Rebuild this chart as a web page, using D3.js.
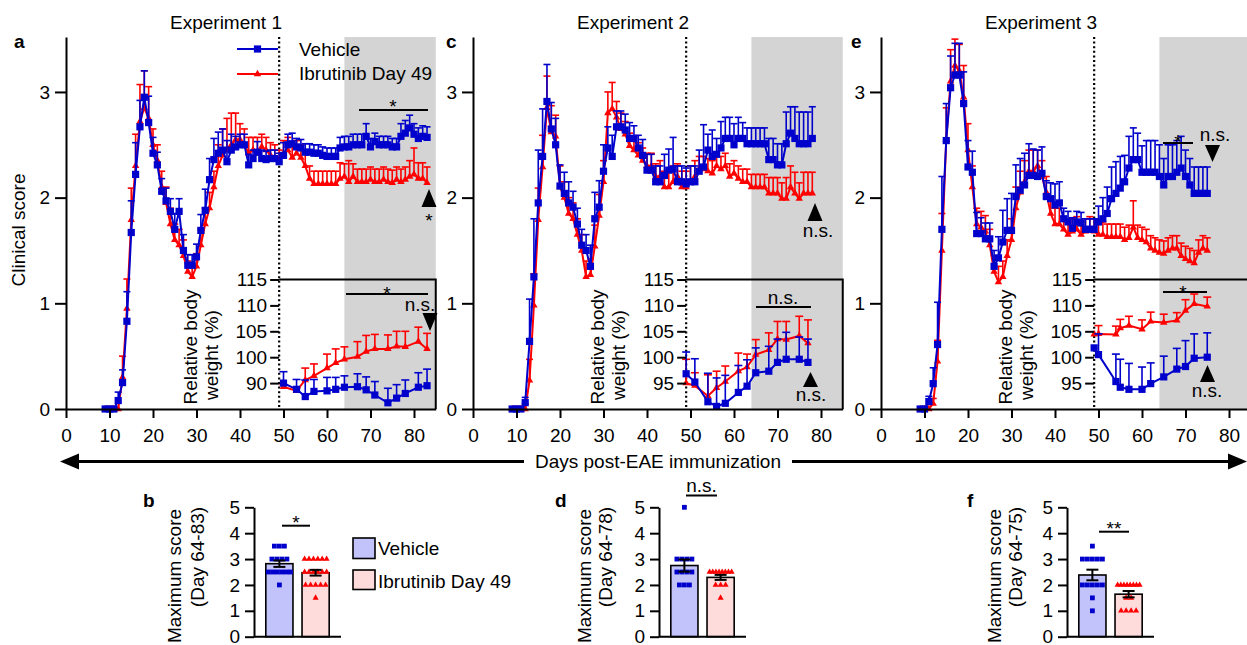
<!DOCTYPE html>
<html>
<head>
<meta charset="utf-8">
<script src="https://cdn.jsdelivr.net/npm/d3@7"></script>
<style>
    body { margin: 0; background: #fff; }
    svg text { font-family: "Liberation Sans", Arial, sans-serif; font-size: 19px; fill: #000; }
</style>
</head>
<body>
<div id="chart"></div>
<script>

/*
    DATA — clinical scores (mean + SEM), one value per day starting at day 9
*/
const firstDay = 9;

// Experiment 1 (days 9..83)
const aVehicle = [0,0,0,0.08,0.25,0.83,1.67,2.22,2.67,2.95,
    2.71,2.42,2.31,2.06,1.97,1.87,1.70,1.87,1.50,1.36,
    1.36,1.44,1.69,1.88,2.17,2.36,2.42,2.45,2.34,2.45,
    2.48,2.50,2.50,2.31,2.37,2.43,2.37,2.36,2.37,2.37,
    2.34,2.40,2.50,2.51,2.48,2.47,2.43,2.43,2.42,2.42,
    2.40,2.39,2.39,2.39,2.47,2.48,2.48,2.50,2.50,2.50,
    2.58,2.48,2.53,2.50,2.50,2.50,2.48,2.48,2.58,2.61,
    2.66,2.60,2.56,2.58,2.57];
const aVehicleErr = [0,0,0,0.08,0.12,0.28,0.3,0.3,0.25,0.25,
    0.25,0.15,0.12,0.12,0.12,0.12,0.15,0.12,0.15,0.1,
    0.1,0.12,0.15,0.2,0.2,0.2,0.2,0.2,0.2,0.15,
    0.1,0.1,0.1,0.1,0.08,0.1,0.08,0.08,0.08,0.08,
    0.08,0.12,0.1,0.1,0.08,0.08,0.08,0.08,0.08,0.08,
    0.08,0.08,0.08,0.08,0.1,0.1,0.1,0.1,0.1,0.1,
    0.12,0.08,0.08,0.08,0.08,0.08,0.08,0.08,0.12,0.12,
    0.12,0.1,0.1,0.1,0.1];
const aIbrutinib = [0,0,0,0,0.3,0.95,1.79,2.3,2.72,2.85,
    2.75,2.5,2.35,2.1,1.95,1.75,1.6,1.55,1.45,1.3,
    1.25,1.35,1.55,1.75,1.9,2.1,2.3,2.4,2.45,2.5,
    2.55,2.55,2.5,2.42,2.45,2.42,2.48,2.45,2.4,2.38,
    2.35,2.42,2.45,2.38,2.42,2.38,2.3,2.18,2.13,2.13,
    2.13,2.13,2.13,2.13,2.18,2.2,2.15,2.2,2.15,2.15,
    2.15,2.17,2.15,2.15,2.17,2.15,2.14,2.17,2.15,2.17,
    2.2,2.22,2.18,2.18,2.14];
const aIbrutinibErr = [0,0,0,0,0.2,0.28,0.3,0.3,0.35,0.35,
    0.3,0.15,0.15,0.15,0.15,0.15,0.15,0.15,0.15,0.1,
    0.1,0.12,0.15,0.15,0.15,0.15,0.2,0.25,0.3,0.3,
    0.25,0.15,0.15,0.15,0.12,0.15,0.12,0.12,0.12,0.12,
    0.1,0.12,0.12,0.12,0.12,0.12,0.12,0.12,0.12,0.12,
    0.12,0.12,0.12,0.12,0.15,0.12,0.2,0.12,0.12,0.12,
    0.12,0.12,0.12,0.12,0.12,0.12,0.12,0.12,0.12,0.12,
    0.15,0.25,0.15,0.15,0.15];

// Experiment 2 (days 9..78)
const cVehicle = [0,0,0,0.06,0.64,1.25,1.95,2.39,2.91,2.65,
    2.50,2.11,2.04,1.95,1.91,1.75,1.55,1.50,1.35,1.80,
    1.91,2.25,2.47,2.39,2.67,2.67,2.64,2.56,2.56,2.47,
    2.40,2.26,2.26,2.15,2.15,2.21,2.26,2.27,2.15,2.15,
    2.13,2.15,2.15,2.25,2.29,2.45,2.39,2.41,2.47,2.56,
    2.56,2.50,2.56,2.56,2.51,2.51,2.51,2.51,2.51,2.36,
    2.36,2.31,2.31,2.51,2.61,2.56,2.51,2.51,2.51,2.56];
const cVehicleErr = [0,0,0,0.05,0.4,0.55,0.5,0.45,0.35,0.25,
    0.25,0.2,0.2,0.2,0.15,0.15,0.15,0.15,0.2,0.25,
    0.25,0.25,0.2,0.2,0.15,0.15,0.15,0.15,0.12,0.12,
    0.15,0.15,0.15,0.15,0.15,0.2,0.2,0.3,0.15,0.15,
    0.15,0.15,0.15,0.2,0.4,0.15,0.25,0.15,0.25,0.2,
    0.2,0.2,0.2,0.15,0.15,0.15,0.15,0.15,0.15,0.2,
    0.2,0.2,0.2,0.3,0.25,0.3,0.3,0.3,0.3,0.3];
const cIbrutinib = [0,0,0,0,0.27,0.98,1.79,2.29,2.85,2.62,
    2.58,2.1,2.0,1.85,1.8,1.65,1.5,1.25,1.27,1.54,
    1.83,2.15,2.8,2.84,2.76,2.65,2.6,2.49,2.45,2.4,
    2.35,2.3,2.3,2.2,2.2,2.1,2.1,2.15,2.2,2.1,
    2.1,2.15,2.2,2.27,2.27,2.25,2.23,2.3,2.27,2.3,
    2.2,2.23,2.18,2.15,2.15,2.1,2.1,2.1,2.1,2.04,
    2.04,2.04,1.99,1.99,2.1,2.04,1.99,2.04,2.04,2.04];
const cIbrutinibErr = [0,0,0,0.05,0.2,0.3,0.3,0.3,0.3,0.25,
    0.2,0.2,0.15,0.15,0.15,0.15,0.15,0.15,0.15,0.2,
    0.2,0.2,0.2,0.25,0.15,0.15,0.12,0.12,0.12,0.12,
    0.12,0.12,0.12,0.12,0.15,0.15,0.15,0.15,0.12,0.15,
    0.15,0.15,0.15,0.12,0.12,0.12,0.12,0.12,0.12,0.12,
    0.12,0.12,0.12,0.12,0.12,0.12,0.12,0.12,0.12,0.15,
    0.15,0.15,0.15,0.2,0.2,0.2,0.15,0.2,0.2,0.2];

// Experiment 3 (days 9..75)
const eVehicle = [0,0,0.07,0.24,0.61,1.70,2.54,3.04,3.16,3.16,
    2.89,2.29,2.24,1.66,1.66,1.61,1.61,1.35,1.43,1.58,
    1.69,1.69,2.01,2.07,2.12,2.21,2.21,2.20,2.23,2.01,
    1.99,1.93,1.95,1.80,1.77,1.71,1.77,1.76,1.70,1.70,
    1.70,1.77,1.80,1.85,1.99,2.04,2.09,2.15,2.28,2.36,
    2.36,2.24,2.24,2.24,2.24,2.20,2.12,2.20,2.20,2.24,
    2.28,2.20,2.12,2.04,2.04,2.04,2.04];
const eVehicleErr = [0,0,0.05,0.15,0.4,0.5,0.35,0.3,0.3,0.3,
    0.3,0.25,0.2,0.2,0.15,0.15,0.15,0.15,0.2,0.3,
    0.3,0.35,0.3,0.3,0.3,0.3,0.25,0.25,0.25,0.15,
    0.15,0.2,0.2,0.1,0.1,0.1,0.1,0.1,0.1,0.1,
    0.1,0.15,0.2,0.25,0.3,0.3,0.3,0.25,0.3,0.3,
    0.25,0.25,0.3,0.3,0.3,0.3,0.25,0.3,0.3,0.3,
    0.3,0.25,0.25,0.25,0.25,0.25,0.25];
const eIbrutinib = [0,0,0,0.05,0.45,1.5,2.55,3.1,3.25,3.2,
    2.95,2.45,2.1,1.75,1.72,1.68,1.55,1.3,1.2,1.25,
    1.45,1.6,1.9,2.05,2.15,2.25,2.25,2.3,2.2,2.05,
    1.85,1.75,1.75,1.7,1.65,1.68,1.7,1.65,1.68,1.7,
    1.68,1.65,1.65,1.63,1.63,1.63,1.63,1.6,1.62,1.72,
    1.62,1.6,1.58,1.52,1.5,1.48,1.47,1.5,1.52,1.52,
    1.45,1.42,1.4,1.38,1.48,1.52,1.5];
const eIbrutinibErr = [0,0,0,0.05,0.2,0.35,0.3,0.3,0.25,0.25,
    0.3,0.25,0.2,0.15,0.15,0.15,0.15,0.15,0.15,0.15,
    0.15,0.2,0.2,0.2,0.2,0.2,0.2,0.15,0.15,0.15,
    0.15,0.15,0.15,0.12,0.12,0.12,0.12,0.12,0.12,0.12,
    0.12,0.12,0.12,0.12,0.12,0.12,0.12,0.12,0.12,0.25,
    0.12,0.12,0.12,0.12,0.12,0.12,0.12,0.12,0.12,0.12,
    0.12,0.12,0.12,0.12,0.12,0.12,0.12];

/*
    INSETS — relative body weight (%)
*/
const aWeightDays = [50,53,55,57,60,62,64,67,69,71,74,76,78,81,83];
const aWeightVehicle = [95.0,93.8,92.4,93.4,93.5,93.8,94.2,94.3,93.7,92.7,91.2,92.1,93.0,94.2,94.5];
const aWeightVehicleErr = [2.2,1.9,3.2,2.3,2.6,2.3,2.2,2.5,2.5,2.6,2.8,2.6,2.6,2.8,3.2];
const aWeightIbrutinib = [94.3,93.5,95.6,96.4,97.9,98.9,99.6,100.1,101.1,101.6,101.6,102.1,102.0,103.0,101.6];
const aWeightIbrutinibErr = [0.4,0.6,2.3,2.3,2.7,2.7,2.4,2.9,3.1,2.8,2.7,2.9,3.0,2.8,3.0];
const aWeightTickLabels = ["90","100","105","110","115"];

const cWeightDays = [49,51,54,56,58,61,63,65,68,70,72,75,77];
const cWeightVehicle = [96.8,95.2,91.4,90.5,91.1,93.2,94.4,97.0,97.3,99.0,99.6,99.6,99.0];
const cWeightVehicleErr = [4.2,4.5,5.5,5.5,5.4,5.2,5.1,4.8,4.8,4.5,5.2,4.3,4.5];
const cWeightIbrutinib = [95.0,94.5,92.5,94.1,95.3,97.3,98.1,100.5,101.4,103.5,103.4,104.1,102.7];
const cWeightIbrutinibErr = [4.6,2.5,4.1,3.2,3.0,3.5,2.5,2.9,3.3,3.4,3.5,3.8,4.5];
const cWeightTickLabels = ["95","100","105","110","115"];

const eWeightDays = [49,50,54,55,57,60,62,65,68,70,72,75];
const eWeightVehicle = [101.8,100.5,95.3,94.2,93.8,93.8,94.9,96.2,97.7,98.2,99.8,100.0];
const eWeightVehicleErr = [0,4.0,5.3,5.4,5.0,4.3,4.0,4.0,4.0,5.0,4.7,4.7];
const eWeightIbrutinib = [104.4,104.5,104.4,105.6,106.1,105.4,106.9,106.7,107.1,109.0,110.3,109.8];
const eWeightIbrutinibErr = [0,1.6,1.6,1.7,1.8,1.8,1.8,1.6,1.5,2.1,1.9,1.8];
const eWeightTickLabels = ["95","100","105","110","115"];

const scoreTicks = [0, 1, 2, 3];
const dayTicks = [0, 10, 20, 30, 40, 50, 60, 70, 80];
const weightTicks = [95, 100, 105, 110, 115];

/*
    MAXIMUM SCORE per mouse (bar panels b, d, f)
*/
const bVehicle = [3.5,3.5,3.5,3,3,3,3,2.5,2.5,2.5,2.5,2.5,2.5,2];
const bIbrutinib = [3,3,3,3,3,3,2.5,2.5,2.5,2.5,2.5,2.5,2,2,2,2,2,1.5];
const dVehicle = [5,3,3,3,3,2.5,2.5,2.5,2.5,2,2,2];
const dIbrutinib = [2.5,2.5,2.5,2.5,2.5,2.5,2.5,2.5,2,2,2,1.5];
const fVehicle = [3.5,3,3,3,3,3,2,2,2,2,2,1.5,1];
const fIbrutinib = [2,2,2,2,2,2,2,2,1.5,1.5,1,1,1,1];
const maxTicks = [0, 1, 2, 3, 4, 5];
const groups = ["Vehicle", "Ibrutinib Day 49"];

/*
    SVG
*/
const width = 1247, height = 645;
const BLUE = "#0000cc", RED = "#ff0000", GREY = "#d4d4d4";
const FONT = "Liberation Sans, Arial, sans-serif";

const svg = d3.select("#chart")
    .append("svg")
    .attr("width", width)
    .attr("height", height);

const yScore = d3.scaleLinear().domain([0, 3.52]).range([409, 37]);
const yWeight = d3.scaleLinear().domain([90, 115]).range([409, 279.5]);

function styleAxis(g, size) {
    g.attr("font-size", size || 19).attr("font-family", FONT);
    g.selectAll(".domain").attr("stroke-width", 2);
    g.selectAll(".tick line").attr("stroke-width", 2);
    g.selectAll(".tick text").attr("fill", "#000");
}

function drawSeries(g, days, vals, errs, color, shape, x, y, capW) {
    const pts = vals.map((v, i) => ({ day: days[i], v: v, e: errs[i] }));
    g.append("path")
        .datum(pts)
        .attr("fill", "none")
        .attr("stroke", color)
        .attr("stroke-width", 2)
        .attr("d", d3.line().x(d => x(d.day)).y(d => y(d.v)));

    const withErr = pts.filter(d => d.e > 0);
    const eb = g.append("g").attr("stroke", color).attr("stroke-width", 1.6);
    eb.selectAll(".v").data(withErr).join("line")
        .attr("x1", d => x(d.day)).attr("x2", d => x(d.day))
        .attr("y1", d => y(d.v)).attr("y2", d => y(d.v + d.e));
    eb.selectAll(".c").data(withErr).join("line")
        .attr("x1", d => x(d.day) - capW).attr("x2", d => x(d.day) + capW)
        .attr("y1", d => y(d.v + d.e)).attr("y2", d => y(d.v + d.e));

    if (shape === "square") {
        g.selectAll(null).data(pts).join("rect")
            .attr("x", d => x(d.day) - 3.6).attr("y", d => y(d.v) - 3.6)
            .attr("width", 7.2).attr("height", 7.2)
            .attr("fill", color);
    } else {
        g.selectAll(null).data(pts).join("path")
            .attr("transform", d => `translate(${x(d.day)},${y(d.v)})`)
            .attr("d", d3.symbol(d3.symbolTriangle, 24))
            .attr("fill", color);
    }
}

function triangle(g, cx, yTop, yBot, up) {
    const w = 7.5;
    const d = up
        ? `M${cx},${yTop}L${cx + w},${yBot}L${cx - w},${yBot}Z`
        : `M${cx - w},${yTop}L${cx + w},${yTop}L${cx},${yBot}Z`;
    g.append("path").attr("d", d).attr("fill", "#000");
}

function label(g, x, y, txt, opts) {
    opts = opts || {};
    return g.append("text")
        .attr("x", x).attr("y", y)
        .attr("text-anchor", opts.anchor || "middle")
        .attr("font-size", opts.size || 19)
        .attr("font-weight", opts.bold ? "bold" : null)
        .text(txt);
}

// stars are placed by the centre of the glyph
const STAR = 30;
function star(g, x, yc, txt) {
    return label(g, x, yc + STAR * 0.4, txt || "*", { size: STAR });
}

const panels = [
    { x0: 66, letter: "a", letterX: 14, title: "Experiment 1",
      blue: aVehicle, blueErr: aVehicleErr, red: aIbrutinib, redErr: aIbrutinibErr,
      wDays: aWeightDays, wBlue: aWeightVehicle, wBlueErr: aWeightVehicleErr,
      wRed: aWeightIbrutinib, wRedErr: aWeightIbrutinibErr, wLabels: aWeightTickLabels },
    { x0: 473, letter: "c", letterX: 446, title: "Experiment 2",
      blue: cVehicle, blueErr: cVehicleErr, red: cIbrutinib, redErr: cIbrutinibErr,
      wDays: cWeightDays, wBlue: cWeightVehicle, wBlueErr: cWeightVehicleErr,
      wRed: cWeightIbrutinib, wRedErr: cWeightIbrutinibErr, wLabels: cWeightTickLabels },
    { x0: 881, letter: "e", letterX: 851, title: "Experiment 3",
      blue: eVehicle, blueErr: eVehicleErr, red: eIbrutinib, redErr: eIbrutinibErr,
      wDays: eWeightDays, wBlue: eWeightVehicle, wBlueErr: eWeightVehicleErr,
      wRed: eWeightIbrutinib, wRedErr: eWeightIbrutinibErr, wLabels: eWeightTickLabels }
];

panels.forEach(function(p) {
    const x = d3.scaleLinear().domain([0, 85]).range([p.x0, p.x0 + 369.75]);
    const g = svg.append("g");

    // shaded evaluation period (day 64 onward)
    g.append("rect")
        .attr("x", x(64)).attr("y", 37)
        .attr("width", x(85) - x(64)).attr("height", yScore(0) - 37)
        .attr("fill", GREY);

    // inset frame
    g.append("path")
        .attr("d", `M${x(49)},${yWeight(115)}H${x(85)}V${yWeight(90)}`)
        .attr("fill", "none").attr("stroke", "#000").attr("stroke-width", 2);

    // treatment start (day 49)
    g.append("line")
        .attr("x1", x(49)).attr("x2", x(49))
        .attr("y1", 37).attr("y2", yScore(0))
        .attr("stroke", "#000").attr("stroke-width", 2.2)
        .attr("stroke-dasharray", "2,2.6");

    const days = p.blue.map((v, i) => firstDay + i);
    drawSeries(g, days, p.red, p.redErr, RED, "triangle", x, yScore, 3.5);
    drawSeries(g, days, p.blue, p.blueErr, BLUE, "square", x, yScore, 3.5);

    drawSeries(g, p.wDays, p.wRed, p.wRedErr, RED, "triangle", x, yWeight, 4);
    drawSeries(g, p.wDays, p.wBlue, p.wBlueErr, BLUE, "square", x, yWeight, 4);

    // axes
    const xAxis = g.append("g")
        .attr("transform", `translate(0,${yScore(0)})`)
        .call(d3.axisBottom(x).tickValues(dayTicks).tickSize(9).tickSizeOuter(0).tickPadding(11));
    styleAxis(xAxis);

    const yAxis = g.append("g")
        .attr("transform", `translate(${p.x0},0)`)
        .call(d3.axisLeft(yScore).tickValues(scoreTicks).tickSize(11).tickSizeOuter(0).tickPadding(5)
            .tickFormat(d3.format("d")));
    styleAxis(yAxis);

    const wAxis = g.append("g")
        .attr("transform", `translate(${x(49)},0)`)
        .call(d3.axisLeft(yWeight).tickValues(weightTicks).tickSize(9).tickSizeOuter(0).tickPadding(3)
            .tickFormat((d, i) => p.wLabels[i]));
    styleAxis(wAxis);
    wAxis.select(".domain").remove();

    // inset axis title
    const xi = x(49);
    g.append("text").attr("transform", `translate(${xi - 82},347) rotate(-90)`)
        .attr("text-anchor", "middle").text("Relative body");
    g.append("text").attr("transform", `translate(${xi - 61},355) rotate(-90)`)
        .attr("text-anchor", "middle").text("weight (%)");

    label(g, p.x0 + 160, 29, p.title);
    label(g, p.letterX, 48, p.letter, { anchor: "start", size: 20, bold: true });
});

// ---- significance marks, main panels
const ann = svg.append("g").attr("stroke", "#000").attr("stroke-width", 2);
// a
ann.append("line").attr("x1", 359).attr("x2", 428).attr("y1", 110).attr("y2", 110);
star(svg, 393, 101);
triangle(svg, 429, 189, 207, true);
star(svg, 429, 215);
ann.append("line").attr("x1", 346).attr("x2", 428).attr("y1", 294).attr("y2", 294);
star(svg, 387, 288);
label(svg, 420, 311, "n.s.");
triangle(svg, 430, 313, 331, false);
// c
triangle(svg, 815, 203, 221, true);
label(svg, 818, 237, "n.s.");
label(svg, 783, 304, "n.s.");
ann.append("line").attr("x1", 756).attr("x2", 811).attr("y1", 307).attr("y2", 307);
triangle(svg, 810.5, 372, 387, true);
label(svg, 811, 401, "n.s.");
// e
ann.append("line").attr("x1", 1163).attr("x2", 1193).attr("y1", 143).attr("y2", 143);
star(svg, 1178, 136);
label(svg, 1215, 141, "n.s.");
triangle(svg, 1212.5, 145, 162, false);
ann.append("line").attr("x1", 1163).attr("x2", 1207).attr("y1", 292).attr("y2", 292);
star(svg, 1183, 286.5);
triangle(svg, 1207.5, 365, 382, true);
label(svg, 1207, 397, "n.s.");

// ---- legend, panel a
const leg = svg.append("g");
leg.append("line").attr("x1", 237).attr("x2", 278).attr("y1", 49).attr("y2", 49)
    .attr("stroke", BLUE).attr("stroke-width", 2);
leg.append("rect").attr("x", 253.9).attr("y", 45.4).attr("width", 7.2).attr("height", 7.2).attr("fill", BLUE);
leg.append("line").attr("x1", 237).attr("x2", 278).attr("y1", 74).attr("y2", 74)
    .attr("stroke", RED).attr("stroke-width", 2);
leg.append("path").attr("transform", "translate(257.5,74)")
    .attr("d", d3.symbol(d3.symbolTriangle, 24)).attr("fill", RED);
label(leg, 299, 56, groups[0], { anchor: "start" });
label(leg, 299, 80, groups[1], { anchor: "start" });

// ---- clinical score title
svg.append("text").attr("transform", "translate(25,230) rotate(-90)")
    .attr("text-anchor", "middle").text("Clinical score");

// ---- shared day axis arrow
const arrowY = 461.5;
svg.append("line").attr("x1", 76).attr("x2", 1231).attr("y1", arrowY).attr("y2", arrowY)
    .attr("stroke", "#000").attr("stroke-width", 3);
svg.append("path").attr("d", `M60,${arrowY}L79,${arrowY - 8}L79,${arrowY + 8}Z`).attr("fill", "#000");
svg.append("path").attr("d", `M1247,${arrowY}L1228,${arrowY - 8}L1228,${arrowY + 8}Z`).attr("fill", "#000");
svg.append("rect").attr("x", 524).attr("y", 450).attr("width", 268).attr("height", 24).attr("fill", "#fff");
label(svg, 658, 468, "Days post-EAE immunization");

/*
    BAR PANELS
*/
const yMax = d3.scaleLinear().domain([0, 5]).range([636.7, 507.3]);
const barPanels = [
    { letter: "b", letterX: 143, ax: 254, lx1: 181, lx2: 204, period: "(Day 64-83)", veh: bVehicle, ibr: bIbrutinib },
    { letter: "d", letterX: 555, ax: 659, lx1: 591, lx2: 612, period: "(Day 64-78)", veh: dVehicle, ibr: dIbrutinib },
    { letter: "f", letterX: 967, ax: 1067, lx1: 1001, lx2: 1022, period: "(Day 64-75)", veh: fVehicle, ibr: fIbrutinib }
];

barPanels.forEach(function(p) {
    const g = svg.append("g");
    const xb = d3.scaleBand().domain(groups).range([p.ax + 10, p.ax + 77]).paddingInner(0.25).paddingOuter(0.05);
    const sets = [
        { key: groups[0], vals: p.veh, fill: "#c3c3fb", color: BLUE, shape: "square" },
        { key: groups[1], vals: p.ibr, fill: "#ffdcdc", color: RED, shape: "triangle" }
    ];
    sets.forEach(function(s) {
        const m = d3.mean(s.vals);
        const sem = d3.deviation(s.vals) / Math.sqrt(s.vals.length);
        const cx = xb(s.key) + xb.bandwidth() / 2;
        g.append("rect")
            .attr("x", xb(s.key)).attr("y", yMax(m))
            .attr("width", xb.bandwidth()).attr("height", yMax(0) - yMax(m))
            .attr("fill", s.fill).attr("stroke", "#000").attr("stroke-width", 1.6);

        // individual mice, same scores spread side by side
        const rows = d3.groups(s.vals, v => v);
        rows.forEach(function(r) {
            const n = r[1].length;
            const step = n > 1 ? Math.min(5, 22 / (n - 1)) : 0;
            r[1].forEach(function(v, i) {
                const px = cx + (i - (n - 1) / 2) * step;
                if (s.shape === "square") {
                    g.append("rect").attr("x", px - 2.4).attr("y", yMax(v) - 2.4)
                        .attr("width", 4.8).attr("height", 4.8).attr("fill", s.color);
                } else {
                    g.append("path").attr("transform", `translate(${px},${yMax(v)})`)
                        .attr("d", d3.symbol(d3.symbolTriangle, 16)).attr("fill", s.color);
                }
            });
        });

        const eg = g.append("g").attr("stroke", "#000").attr("stroke-width", 2);
        eg.append("line").attr("x1", cx).attr("x2", cx).attr("y1", yMax(m - sem)).attr("y2", yMax(m + sem));
        eg.append("line").attr("x1", cx - 6).attr("x2", cx + 6).attr("y1", yMax(m - sem)).attr("y2", yMax(m - sem));
        eg.append("line").attr("x1", cx - 6).attr("x2", cx + 6).attr("y1", yMax(m + sem)).attr("y2", yMax(m + sem));
    });

    g.append("line").attr("x1", p.ax).attr("x2", p.ax + 87).attr("y1", yMax(0)).attr("y2", yMax(0))
        .attr("stroke", "#000").attr("stroke-width", 2);
    const ya = g.append("g").attr("transform", `translate(${p.ax},0)`)
        .call(d3.axisLeft(yMax).tickValues(maxTicks).tickSize(9).tickSizeOuter(0).tickPadding(5)
            .tickFormat(d3.format("d")));
    styleAxis(ya);

    g.append("text").attr("transform", `translate(${p.lx1},576) rotate(-90)`)
        .attr("text-anchor", "middle").text("Maximum score");
    g.append("text").attr("transform", `translate(${p.lx2},557) rotate(-90)`)
        .attr("text-anchor", "middle").text(p.period);
    label(g, p.letterX, 507, p.letter, { anchor: "start", size: 20, bold: true });
});

// significance over bars
const sb = svg.append("g").attr("stroke", "#000").attr("stroke-width", 2);
sb.append("line").attr("x1", 282).attr("x2", 310).attr("y1", 525.7).attr("y2", 525.7);
star(svg, 296, 516.5);
sb.append("line").attr("x1", 686).attr("x2", 717).attr("y1", 495.5).attr("y2", 495.5);
label(svg, 701.5, 492, "n.s.");
sb.append("line").attr("x1", 1099).attr("x2", 1129).attr("y1", 531.7).attr("y2", 531.7);
star(svg, 1114, 523, "**");

// legend for bars
const bl = svg.append("g");
bl.append("rect").attr("x", 353).attr("y", 538).attr("width", 22).attr("height", 20.5)
    .attr("fill", "#c3c3fb").attr("stroke", "#000").attr("stroke-width", 1.6);
bl.append("rect").attr("x", 353).attr("y", 570).attr("width", 22).attr("height", 19.5)
    .attr("fill", "#ffdcdc").attr("stroke", "#000").attr("stroke-width", 1.6);
label(bl, 378, 555, groups[0], { anchor: "start" });
label(bl, 378, 588, groups[1], { anchor: "start" });

</script>
</body>
</html>
